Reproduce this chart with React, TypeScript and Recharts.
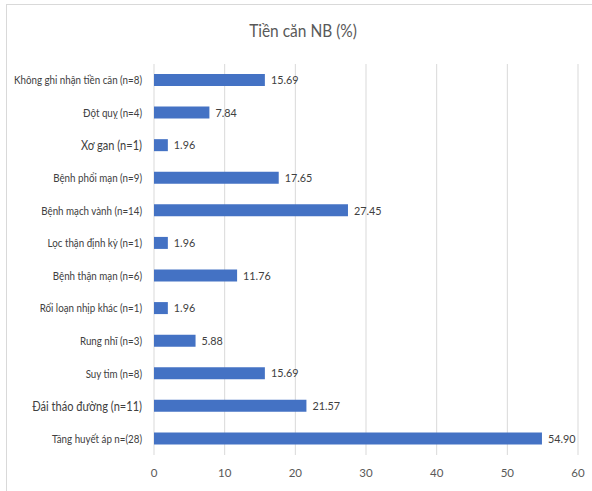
import React from "react";
import { BarChart, Bar, XAxis, YAxis, CartesianGrid, LabelList } from "recharts";

const categories = [
  "Không ghi nhận tiền căn (n=8)",
  "Đột quỵ (n=4)",
  "Xơ gan (n=1)",
  "Bệnh phổi mạn (n=9)",
  "Bệnh mạch vành (n=14)",
  "Lọc thận định kỳ (n=1)",
  "Bệnh thận mạn (n=6)",
  "Rối loạn nhịp khác (n=1)",
  "Rung nhĩ (n=3)",
  "Suy tim (n=8)",
  "Đái tháo đường (n=11)",
  "Tăng huyết áp n=(28)",
];
const values = [15.69, 7.84, 1.96, 17.65, 27.45, 1.96, 11.76, 1.96, 5.88, 15.69, 21.57, 54.9];
const xTicks = [0, 10, 20, 30, 40, 50, 60];
const title = "Tiền căn NB (%)";

const data = categories.map((c, i) => ({ name: c, value: values[i] }));
const font = "Lato, 'Noto Sans', sans-serif";
const largeLabels = new Set(["Xơ gan (n=1)", "Đái tháo đường (n=11)"]);

const CatTick = (props: any) => {
  const { x, y, payload } = props;
  const big = largeLabels.has(payload.value);
  return (
    <g transform={`translate(${x - 1},${y}) scale(0.85,1)`}>
      <text x={0} y={0} dy="0.35em" textAnchor="end" fontSize={big ? 13 : 11.5} fill="#404040" fontFamily={font}>
        {payload.value}
      </text>
    </g>
  );
};

const ValueLabel = (props: any) => {
  const { x, y, width, height, value } = props;
  return (
    <g transform={`translate(${x + width + 6},${y + height / 2}) scale(0.9,1)`}>
      <text x={0} y={0} dy="0.35em" textAnchor="start" fontSize={12} fill="#404040" fontFamily={font}>
        {Number(value).toFixed(2)}
      </text>
    </g>
  );
};

export default function App() {
  return (
    <div style={{ position: "absolute", left: 0, top: 0, width: 592, height: 491, background: "#fff", fontFamily: font }}>
      <div style={{ position: "absolute", left: 6, top: 4, width: 590, height: 492, border: "1px solid #d9d9d9", boxSizing: "border-box" }} />
      <div style={{ position: "absolute", left: 3, top: 19, width: 600, textAlign: "center", fontSize: 18, color: "#595959", transform: "scaleX(0.86)", transformOrigin: "300px 0" }}>{title}</div>
      <div style={{ position: "absolute", left: 0, top: 0 }}>
        <BarChart width={592} height={491} data={data} layout="vertical" margin={{ top: 64, right: 14, bottom: 0, left: 0 }}>
          <CartesianGrid horizontal={false} stroke="#d9d9d9" />
          <XAxis type="number" domain={[0, 60]} ticks={xTicks} axisLine={false} tickLine={false} height={36} tickMargin={8} tick={{ fontSize: 11.5, fill: "#595959", fontFamily: font }} />
          <YAxis type="category" dataKey="name" width={154} axisLine={false} tickLine={false} tickMargin={5} interval={0} tick={<CatTick />} />
          <Bar dataKey="value" fill="#4472c4" barSize={12} isAnimationActive={false}>
            <LabelList dataKey="value" content={<ValueLabel />} />
          </Bar>
        </BarChart>
      </div>
    </div>
  );
}
